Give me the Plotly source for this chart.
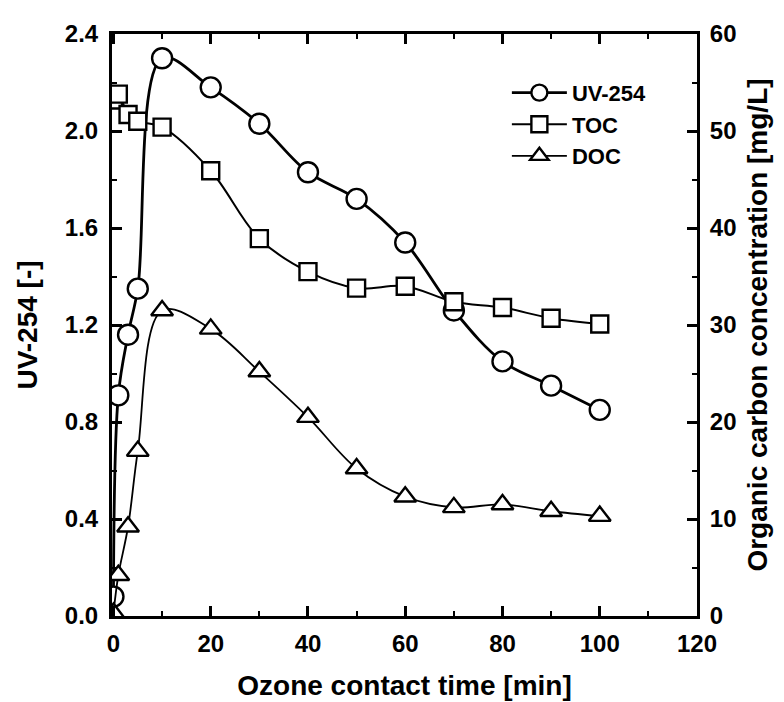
import plotly.graph_objects as go

# Data
time_uv = [0, 1, 3, 5, 10, 20, 30, 40, 50, 60, 70, 80, 90, 100]
uv254 = [0.08, 0.91, 1.16, 1.35, 2.30, 2.18, 2.03, 1.83, 1.72, 1.54, 1.26, 1.05, 0.95, 0.85]

time_toc = [0, 1, 3, 5, 10, 20, 30, 40, 50, 60, 70, 80, 90, 100]
toc = [53.2, 53.8, 51.7, 51.0, 50.4, 45.9, 38.9, 35.5, 33.8, 34.0, 32.4, 31.8, 30.7, 30.1]

time_doc = [0, 1, 3, 5, 10, 20, 30, 40, 50, 60, 70, 80, 90, 100]
doc = [0.3, 4.2, 9.2, 17.0, 31.5, 29.6, 25.2, 20.5, 15.2, 12.3, 11.2, 11.5, 10.8, 10.3]

x_ticks = [0, 20, 40, 60, 80, 100, 120]
y1_ticks = [0.0, 0.4, 0.8, 1.2, 1.6, 2.0, 2.4]
y2_ticks = [0, 10, 20, 30, 40, 50, 60]

FONT = "Liberation Sans, Arial, Helvetica, sans-serif"
TICK_SIZE = 24
TITLE_SIZE = 28

fig = go.Figure()
fig.add_trace(go.Scatter(
    x=time_uv, y=uv254, name="UV-254", mode="lines+markers",
    line=dict(color="black", width=2.8, shape="spline", smoothing=1.0),
    marker=dict(symbol="circle", size=20, color="white",
                line=dict(color="black", width=2.4)),
    yaxis="y", legendgroup="a"))
fig.add_trace(go.Scatter(
    x=time_toc, y=toc, name="TOC", mode="lines+markers",
    line=dict(color="black", width=2.0, shape="spline", smoothing=1.0),
    marker=dict(symbol="square", size=17, color="white",
                line=dict(color="black", width=2.4)),
    yaxis="y2", legendgroup="b"))
fig.add_trace(go.Scatter(
    x=time_doc, y=doc, name="DOC", mode="lines+markers",
    line=dict(color="black", width=1.8, shape="spline", smoothing=1.0),
    marker=dict(symbol="triangle-up", size=19, color="white",
                line=dict(color="black", width=2.4)),
    yaxis="y2", legendgroup="c"))

axis_common = dict(
    showline=True, linecolor="black", linewidth=3,
    ticks="inside", ticklen=10, tickwidth=2.5, tickcolor="black",
    showgrid=False, zeroline=False,
    tickfont=dict(family=FONT, size=TICK_SIZE, color="black", weight="bold"),
)

fig.update_layout(
    width=784, height=702,
    margin=dict(l=104, r=95, t=20, b=94),
    paper_bgcolor="white", plot_bgcolor="white",
    font=dict(family=FONT, color="black", weight="bold"),
    xaxis=dict(
        range=[-0.3, 120], tickvals=x_ticks, ticktext=[str(v) for v in x_ticks],
        mirror="ticks", ticklabelstandoff=4,
        minor=dict(dtick=10, ticks="inside", ticklen=5, tickwidth=2, tickcolor="black"),
        title=dict(text="Ozone contact time [min]", standoff=20,
                   font=dict(family=FONT, size=TITLE_SIZE, color="black", weight="bold")),
        **axis_common),
    yaxis=dict(
        range=[0, 2.4], tickvals=y1_ticks, ticktext=[f"{v:.1f}" for v in y1_ticks],
        ticklabelstandoff=6,
        minor=dict(dtick=0.2, ticks="inside", ticklen=5, tickwidth=2, tickcolor="black"),
        title=dict(text="UV-254 [-]", standoff=20,
                   font=dict(family=FONT, size=TITLE_SIZE, color="black", weight="bold")),
        **axis_common),
    yaxis2=dict(
        range=[0, 60], tickvals=y2_ticks, ticktext=[str(v) for v in y2_ticks],
        overlaying="y", side="right", ticklabelstandoff=5,
        minor=dict(dtick=5, ticks="inside", ticklen=5, tickwidth=2, tickcolor="black"),
        title=dict(text="Organic carbon concentration [mg/L]", standoff=12,
                   font=dict(family=FONT, size=TITLE_SIZE, color="black", weight="bold")),
        **axis_common),
    legend=dict(
        x=0.675, y=0.935, xanchor="left", yanchor="top",
        bgcolor="rgba(0,0,0,0)", borderwidth=0,
        font=dict(family=FONT, size=22, color="black", weight="bold"),
        tracegroupgap=0, itemwidth=55,
    ),
    showlegend=True,
)

fig.write_html("out.html")
